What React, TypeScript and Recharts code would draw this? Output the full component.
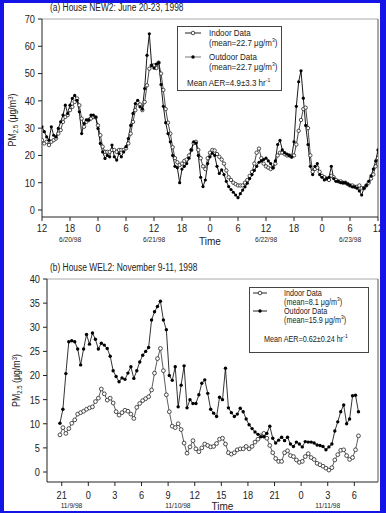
import React from 'react';
import { LineChart, Line, XAxis, YAxis, ReferenceLine, Legend } from 'recharts';

const FONT = "'Liberation Sans', Arial, sans-serif";
const AXIS = '#222';
const NARROW = 0.84;

// ---------- Panel (a): House NEW2, June 20-23, 1998 (hours from 6/20 00:00, every 30 min) ----------
const A_START = 12;
const A_STEP = 0.5;
const aOutdoor = [
  30.5, 28.7, 26.8, 25.6, 30.5, 27.4, 26.8, 29.9, 32.3, 34.8, 38.4, 35.4,
  38.4, 40.9, 42, 40.2, 36, 28, 31.7, 33, 33, 34.8, 34.8, 34,
  29.9, 24.4, 21.3, 18.9, 20, 19.5, 23.8, 19.5, 18.3, 20.7, 19.5, 21.3,
  23.2, 26.2, 31, 35.4, 39, 40.2, 37.8, 37, 44.5, 56.7, 64.6, 53,
  52, 53.5, 54, 46, 38, 32, 28, 25, 20, 16, 15.5, 10,
  15, 16, 17, 19, 22, 25, 24.5, 20, 12, 8.6, 11, 17,
  19.5, 20.8, 20, 16, 13.4, 14.7, 13, 10.5, 8.6, 7.5, 6.5, 5.5,
  4.5, 6, 7.3, 8.5, 9.8, 11.5, 13, 14.5, 16, 17.5, 18, 18.5,
  19, 18, 17, 15.5, 18, 24, 25.5, 22, 21, 20.5, 20, 19.5,
  25, 38, 47, 51, 41, 31, 24, 16, 13, 16, 17, 13,
  12, 11, 11.5, 12, 16, 11.5, 10.5, 10.5, 10, 10, 10, 9.5,
  9, 8.5, 8.5, 8, 7, 5.5, 8, 9, 10.5, 12.5, 15, 18,
  22,
];
const aIndoor = [
  25.6, 24.4, 25, 23.8, 25, 25.6, 26.2, 28, 29.3, 32.3, 34.1, 34.8,
  36.6, 37.8, 39.6, 40.9, 38.4, 33.5, 30.5, 32.3, 33, 33.5, 34.1, 34,
  31, 27.4, 23.2, 21.3, 21.3, 21.3, 22, 22, 21.3, 22, 22, 22,
  22.6, 24.4, 28, 32.3, 36.6, 39.4, 38.7, 36.6, 39.6, 45.7, 51.8, 53,
  53, 52, 54, 50, 44, 37, 32, 28, 23, 19, 17.5, 16.5,
  17, 18, 18.5, 20, 22, 24.5, 25, 22, 19, 16, 15, 19,
  21, 22, 21.8, 20.5, 19.5, 18.5, 17, 14.5, 12, 11, 10, 9.5,
  9, 9, 9, 10, 11, 12.5, 14, 17, 21, 22.5, 19, 17,
  16, 15.5, 15, 15.5, 17, 20, 21, 21, 20.5, 20, 20, 19.5,
  20, 24, 29, 33, 37, 37.5, 30, 20, 14, 15, 15.5, 14,
  12.5, 12, 11.5, 11, 12.5, 12, 11, 10.5, 10.5, 10, 10, 9.5,
  9, 9, 8.5, 8.5, 9, 8, 8, 9, 10, 11.5, 13, 16,
  19,
];
const aHourTicks = [12, 18, 24, 30, 36, 42, 48, 54, 60, 66, 72, 78, 84];
const aDateTicks = [18, 36, 60, 78];
const aDateLabels = ['6/20/98', '6/21/98', '6/22/98', '6/23/98'];
const aYTicks = [0, 10, 20, 30, 40, 50, 60, 70];
const aMeans = ['22.7', '22.7'];
const aAER = '4.9±3.3';

// ---------- Panel (b): House WEL2, November 9-11, 1998 (hours from 11/9 00:00, every 20 min) ----------
const B_START = 20.8;
const B_STEP = 1 / 3;
const bOutdoor = [
  10.1, 13, 20.4, 27, 27.2, 27, 25.5, 22.2, 25.5, 28.5, 26.5, 28.8,
  27.5, 25.5, 26.7, 26.3, 25.6, 24, 21, 19.8, 18.7, 19.5, 19.2, 20.5,
  21.8, 19.4, 21, 22.8, 24.2, 25, 25.8, 31.5, 33.2, 34.3, 35.4, 31.5,
  29.5, 20, 19, 21.8, 13.5, 18, 22, 13.3, 15, 14.2, 14.2, 16,
  18.4, 19.1, 16.3, 13, 12.2, 11.5, 15.5, 15, 21.5, 13.3, 12.3, 11.5,
  12, 13.2, 12.5, 11, 9.8, 9, 8.3, 7.8, 7.3, 7.3, 8, 9.5,
  7, 6, 6.6, 7.2, 6.5, 7.2, 5.8, 5.3, 6.2, 5.8, 5.2, 6.3,
  6.2, 6.2, 6, 5.6, 5.5, 5.3, 4.6, 5.2, 5.8, 8.5, 10.4, 12.5,
  13.9, 10, 11, 15.8, 15.9, 12.5,
];
const bIndoor = [
  7.7, 9.2, 8, 9, 10.1, 10.8, 12, 12.3, 12.6, 13, 13.3, 13.5,
  14.6, 15.3, 17.2, 16.2, 14.9, 15.3, 14.3, 12.5, 11.8, 12.3, 12.8, 12.6,
  12, 11.1, 13.4, 14.2, 14.8, 15.2, 15.6, 17, 20.5, 23.5, 25.6, 21,
  16, 12.5, 9.5, 9.2, 10, 8.8, 6, 3.9, 5.2, 6.5, 4.8, 4.2,
  5, 5.8, 5.5, 5.2, 5.3, 5.9, 6.8, 7, 5.8, 4, 3.7, 4,
  4.6, 4.8, 4.8, 5.3, 4.8, 5.3, 6.2, 6.8, 7.5, 8, 7, 5.5,
  4, 2.8, 2.2, 2.2, 4, 4.4, 3.4, 3.2, 2.5, 2, 2.2, 3.2,
  3.8, 3, 2.6, 1.8, 1.5, 1.2, 0.8, 0.4, 0.9, 2.5, 3.6, 4.5,
  4.6, 3.4, 2.6, 3, 4.6, 7.5,
];
const bHourTicks = [21, 24, 27, 30, 33, 36, 39, 42, 45, 48, 51, 54];
const bDateTicks = [22.1, 34.1, 51];
const bDateLabels = ['11/9/98', '11/10/98', '11/11/98'];
const bYTicks = [0, 5, 10, 15, 20, 25, 30, 35, 40];
const bMeans = ['8.1', '15.9'];
const bAER = '0.62±0.24';

const seriesNames = ['Indoor Data', 'Outdoor Data'];

function buildRows(start: number, step: number, indoor: number[], outdoor: number[]) {
  return indoor.map((v, i) => ({
    t: Math.round((start + i * step) * 1000) / 1000,
    indoor: v,
    outdoor: outdoor[i],
  }));
}

const indoorDot = (r: number) => (p: any) => (
  <circle key={`i${p.index}`} cx={p.cx} cy={p.cy} r={r} fill="#fff" stroke="#222" strokeWidth={0.8} />
);
const outdoorDot = (r: number) => (p: any) => (
  <circle key={`o${p.index}`} cx={p.cx} cy={p.cy} r={r} fill="#000" stroke="none" />
);

// narrow-looking tick labels (the scanned figure uses a condensed face)
const HourTick = (p: any) => (
  <text
    transform={`translate(${p.x},${p.y}) scale(${NARROW},1)`}
    textAnchor="middle"
    dy="0.71em"
    fontSize={11}
    fontFamily={FONT}
    fill="#222"
  >
    {String(p.payload.value % 24)}
  </text>
);
const YTick = (p: any) => (
  <text
    transform={`translate(${p.x},${p.y}) scale(${NARROW},1)`}
    textAnchor="end"
    dy="0.355em"
    fontSize={11}
    fontFamily={FONT}
    fill="#222"
  >
    {String(p.payload.value)}
  </text>
);
const dateTick = (ticks: number[], labels: string[]) => (p: any) => (
  <text
    transform={`translate(${p.x},${p.y}) scale(0.95,1)`}
    textAnchor="middle"
    dy="0.71em"
    fontSize={7}
    fontFamily={FONT}
    fill="#222"
  >
    {labels[ticks.indexOf(p.payload.value)]}
  </text>
);

const yLabelContent = (dx: number, dy: number) => (props: any) => {
  const vb = props.viewBox || { x: 0, y: 0, width: 0, height: 0 };
  const x = vb.x + dx;
  const y = vb.y + vb.height / 2 + dy;
  return (
    <text transform={`translate(${x},${y}) rotate(-90) scale(${NARROW},1)`} textAnchor="middle" fontFamily={FONT} fontSize={10.5} fill="#222">
      PM<tspan fontSize={7} dy={2}>2.5</tspan>
      <tspan dy={-2}> (μg/m</tspan>
      <tspan fontSize={7} dy={-3.5}>3</tspan>
      <tspan dy={3.5}>)</tspan>
    </text>
  );
};

const Sample = ({ left, top, w, filled, color }: any) => (
  <svg width={w} height={6} style={{ position: 'absolute', left, top }}>
    <line x1={0} y1={3} x2={w} y2={3} stroke={color} strokeWidth={1} />
    {filled ? (
      <circle cx={w / 2} cy={3} r={1.7} fill="#000" />
    ) : (
      <circle cx={w / 2} cy={3} r={1.8} fill="#fff" stroke="#222" strokeWidth={0.8} />
    )}
  </svg>
);

const Units = ({ mean }: { mean: string }) => (
  <span>
    (mean={mean} μg/m<sup style={{ fontSize: 6, lineHeight: 0, verticalAlign: 4 }}>3</sup>)
  </span>
);

function LegendBox({ w, h, fs, textLeft, sampleLeft, sampleW, rowsY, aerY, aerLeft, means, aer, outColor }: any) {
  const txt = (top: number, left: number, child: any, key: string) => (
    <div
      key={key}
      style={{
        position: 'absolute',
        left,
        top: top - fs / 2,
        height: fs,
        lineHeight: `${fs}px`,
        whiteSpace: 'nowrap',
        transform: `scaleX(${NARROW})`,
        transformOrigin: 'left center',
      }}
    >
      {child}
    </div>
  );
  return (
    <div
      style={{
        position: 'relative',
        width: w,
        height: h,
        boxSizing: 'border-box',
        border: '1px solid #444',
        background: '#fff',
        fontFamily: FONT,
        fontSize: fs,
        color: '#1a1a1a',
      }}
    >
      <Sample left={sampleLeft} top={rowsY[0] - 4} w={sampleW} filled={false} color="#222" />
      {txt(rowsY[0] - 1, textLeft, seriesNames[0], 'n0')}
      {txt(rowsY[1] - 1, textLeft, <Units mean={means[0]} />, 'm0')}
      <Sample left={sampleLeft} top={rowsY[2] - 4} w={sampleW} filled={true} color={outColor} />
      {txt(rowsY[2] - 1, textLeft, seriesNames[1], 'n1')}
      {txt(rowsY[3] - 1, textLeft, <Units mean={means[1]} />, 'm1')}
      {txt(aerY - 1, aerLeft, (
        <span>
          Mean AER={aer} hr<sup style={{ fontSize: 6, lineHeight: 0, verticalAlign: 4 }}>-1</sup>
        </span>
      ), 'aer')}
    </div>
  );
}

const titleStyle: React.CSSProperties = {
  position: 'absolute',
  left: 50,
  fontSize: 10,
  lineHeight: '12px',
  color: '#222',
  whiteSpace: 'nowrap',
  transform: `scaleX(${NARROW})`,
  transformOrigin: 'left center',
};

export default function App() {
  const dataA = buildRows(A_START, A_STEP, aIndoor, aOutdoor);
  const dataB = buildRows(B_START, B_STEP, bIndoor, bOutdoor);
  return (
    <div style={{ position: 'absolute', left: 0, top: 0, width: 386, height: 513, background: '#fff', overflow: 'hidden', fontFamily: FONT }}>
      <div style={{ ...titleStyle, top: 2 }}>(a) House NEW2: June 20-23, 1998</div>
      <div style={{ position: 'absolute', left: 0, top: 0 }}>
        <LineChart width={386} height={250} data={dataA} margin={{ top: 19, right: 8, left: 12, bottom: 0 }}>
          <XAxis
            dataKey="t"
            type="number"
            domain={[12, 84]}
            ticks={aHourTicks}
            interval={0}
            allowDataOverflow
            height={17}
            tickSize={4}
            tickMargin={3}
            stroke={AXIS}
            tick={HourTick}
          />
          <XAxis
            xAxisId="date"
            dataKey="t"
            type="number"
            domain={[12, 84]}
            ticks={aDateTicks}
            interval={0}
            allowDataOverflow
            height={16}
            tickSize={0}
            tickMargin={3}
            axisLine={false}
            tickLine={false}
            tick={dateTick(aDateTicks, aDateLabels)}
            label={{ value: 'Time', position: 'insideBottom', offset: 5.5, fontSize: 10, fill: '#222', fontFamily: FONT }}
          />
          <YAxis
            type="number"
            domain={[-2.565, 70]}
            ticks={aYTicks}
            interval={0}
            allowDataOverflow
            width={30}
            tickSize={4}
            tickMargin={3}
            stroke={AXIS}
            tick={YTick}
            label={{ content: yLabelContent(4, 2) }}
          />
          <ReferenceLine y={70} stroke="#aaa" />
          <ReferenceLine x={84} stroke="#555" />
          <Line dataKey="indoor" type="linear" stroke="#333" strokeWidth={0.9} dot={indoorDot(1.7)} activeDot={false} isAnimationActive={false} />
          <Line dataKey="outdoor" type="linear" stroke="#000" strokeWidth={0.9} dot={outdoorDot(1.6)} activeDot={false} isAnimationActive={false} />
          <Legend
            layout="horizontal"
            verticalAlign="middle"
            align="center"
            wrapperStyle={{ left: 177, top: 26, width: 105, height: 65 }}
            content={() => (
              <LegendBox
                w={105}
                h={65}
                fs={9.5}
                textLeft={31}
                sampleLeft={7}
                sampleW={16}
                rowsY={[7, 17, 31, 41]}
                aerY={57}
                aerLeft={9}
                means={aMeans}
                aer={aAER}
                outColor="#777"
              />
            )}
          />
        </LineChart>
      </div>

      <div style={{ ...titleStyle, top: 262 }}>(b) House WEL2: November 9-11, 1998</div>
      <div style={{ position: 'absolute', left: 0, top: 255 }}>
        <LineChart width={386} height={258} data={dataB} margin={{ top: 24, right: 8, left: 17, bottom: 0 }}>
          <XAxis
            dataKey="t"
            type="number"
            domain={[19.34, 56.67]}
            ticks={bHourTicks}
            interval={0}
            allowDataOverflow
            height={18}
            tickSize={4}
            tickMargin={5}
            stroke={AXIS}
            tick={HourTick}
          />
          <XAxis
            xAxisId="date"
            dataKey="t"
            type="number"
            domain={[19.34, 56.67]}
            ticks={bDateTicks}
            interval={0}
            allowDataOverflow
            height={13}
            tickSize={0}
            tickMargin={3}
            axisLine={false}
            tickLine={false}
            tick={dateTick(bDateTicks, bDateLabels)}
            label={{ value: 'Time', position: 'insideBottom', offset: 3, dx: 10, fontSize: 10, fill: '#222', fontFamily: FONT }}
          />
          <YAxis
            type="number"
            domain={[-2.07, 40]}
            ticks={bYTicks}
            interval={0}
            allowDataOverflow
            width={30}
            tickSize={4}
            tickMargin={3}
            stroke={AXIS}
            tick={YTick}
            label={{ content: yLabelContent(3, 0) }}
          />
          <ReferenceLine y={40} stroke="#aaa" />
          <ReferenceLine x={56.67} stroke="#555" />
          <Line dataKey="indoor" type="linear" stroke="#333" strokeWidth={0.8} dot={indoorDot(1.9)} activeDot={false} isAnimationActive={false} />
          <Line dataKey="outdoor" type="linear" stroke="#000" strokeWidth={0.8} dot={outdoorDot(1.7)} activeDot={false} isAnimationActive={false} />
          <Legend
            layout="horizontal"
            verticalAlign="middle"
            align="center"
            wrapperStyle={{ left: 249, top: 32, width: 120, height: 66 }}
            content={() => (
              <LegendBox
                w={120}
                h={66}
                fs={8.6}
                textLeft={34}
                sampleLeft={3}
                sampleW={14}
                rowsY={[6, 15, 24, 33]}
                aerY={52}
                aerLeft={14}
                means={bMeans}
                aer={bAER}
                outColor="#222"
              />
            )}
          />
        </LineChart>
      </div>

      <div
        style={{
          position: 'absolute',
          left: 0,
          top: 0,
          width: 386,
          height: 513,
          boxSizing: 'border-box',
          borderStyle: 'solid',
          borderColor: '#1414e6',
          borderWidth: '3px 6px 2px 4px',
          pointerEvents: 'none',
        }}
      />
    </div>
  );
}
